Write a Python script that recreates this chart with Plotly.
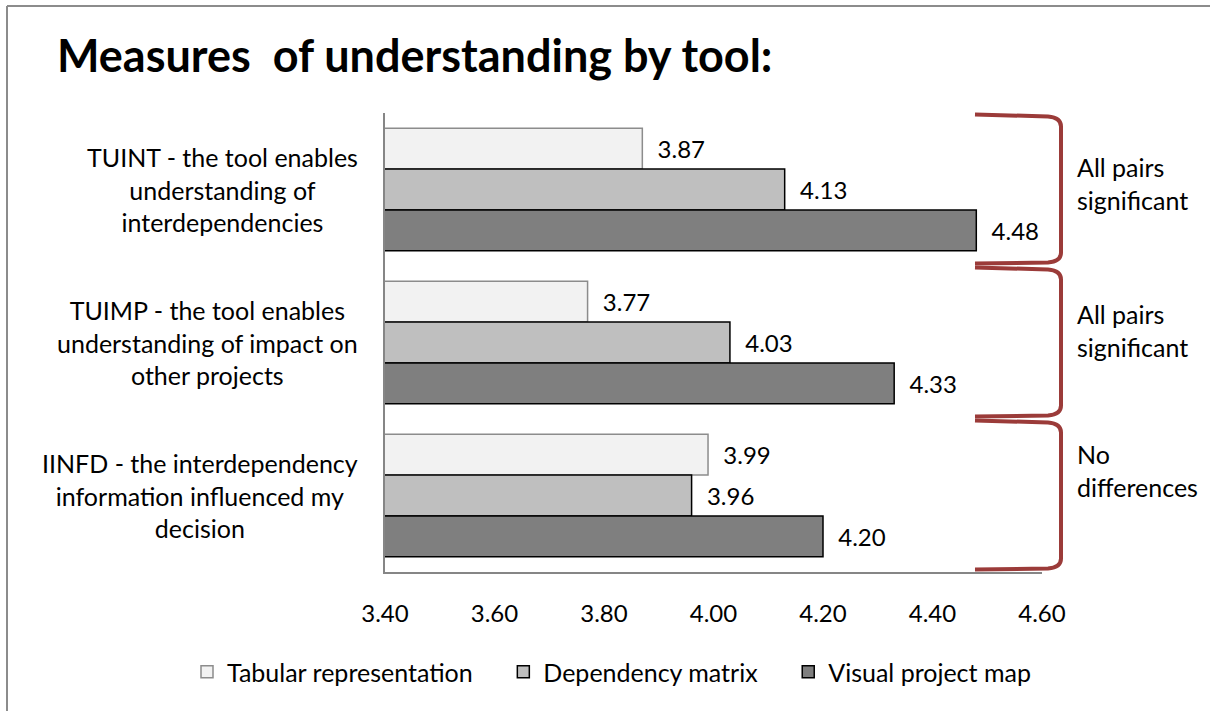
import plotly.graph_objects as go

categories = [
    "TUINT - the tool enables<br>understanding of<br>interdependencies",
    "TUIMP - the tool enables<br>understanding of impact on<br>other projects",
    "IINFD - the interdependency<br>information influenced my<br>decision",
]
cat_ids = ["TUINT", "TUIMP", "IINFD"]
series_names = ["Tabular representation", "Dependency matrix", "Visual project map"]
tabular = [3.87, 3.77, 3.99]
dependency = [4.13, 4.03, 3.96]
visual = [4.48, 4.33, 4.20]
brace_notes = ["All pairs<br>significant", "All pairs<br>significant", "No<br>differences"]
x_ticks = [3.4, 3.6, 3.8, 4.0, 4.2, 4.4, 4.6]

W, H = 1210, 711
L, R, T, B = 385, 1042, 113, 572  # plot area pixels
FONT = "Lato"
note_yshift = [6, 12, 25]
NB = "\u00a0"

def px(p):
    return (p - L) / (R - L)

def py(p):
    return (B - p) / (B - T)

fills = ["#F2F2F2", "#BFBFBF", "#7F7F7F"]
lines = ["#8C8C8C", "#000000", "#000000"]
values = [tabular, dependency, visual]
legend_pad = [NB * 4, NB * 4, ""]

fig = go.Figure()
for name, vals, fc, lc, pad in zip(series_names, values, fills, lines, legend_pad):
    fig.add_trace(go.Bar(
        y=cat_ids, x=vals, name=name + pad, orientation="h",
        marker=dict(color=fc, line=dict(color=lc, width=1.5)),
        text=[NB * 2 + f"{v:.2f}" for v in vals],
        textposition="outside", constraintext="none", cliponaxis=False,
        textfont=dict(family=FONT, size=24, color="black"),
    ))

shapes = []
# braces
bc = "#9B3B39"
band = (B - T) / len(cat_ids)
for i in range(len(cat_ids)):
    c = T + band * (i + 0.5)
    top, bot = c - 75, c + 73
    x0, x1, xv = 975, 1048, 1061
    path = (f"M {px(x0)},{py(top)} L {px(x1)},{py(top+2)} "
            f"Q {px(xv)},{py(top+3)} {px(xv)},{py(top+12)} "
            f"L {px(xv)},{py(bot-10)} "
            f"Q {px(xv)},{py(bot-1)} {px(x1)},{py(bot)} "
            f"L {px(x0)},{py(bot+1)}")
    shapes.append(dict(type="path", path=path, xref="paper", yref="paper",
                       line=dict(color=bc, width=4)))

# outer frame lines (top and left)
shapes.append(dict(type="line", xref="paper", yref="paper",
                   x0=px(7), x1=px(W), y0=py(6), y1=py(6),
                   line=dict(color="#8C8C8C", width=2)))
shapes.append(dict(type="line", xref="paper", yref="paper",
                   x0=px(7), x1=px(7), y0=py(6), y1=py(H),
                   line=dict(color="#8C8C8C", width=2)))

annotations = []
for cid, lab in zip(cat_ids, categories):
    annotations.append(dict(x=px(360), xref="paper", y=cid, yref="y",
                            text=lab, showarrow=False, xanchor="right",
                            align="center", yanchor="middle",
                            font=dict(family=FONT, size=25, color="black")))
for cid, note, ys in zip(cat_ids, brace_notes, note_yshift):
    annotations.append(dict(x=px(1075), xref="paper", y=cid, yref="y",
                            text=note, showarrow=False, xanchor="left",
                            align="left", yanchor="middle", yshift=ys,
                            font=dict(family=FONT, size=25, color="black")))

fig.update_layout(
    width=W, height=H,
    margin=dict(l=L, r=W - R, t=T, b=H - B),
    paper_bgcolor="white", plot_bgcolor="white",
    barmode="group", bargap=0.2, bargroupgap=0,
    title=dict(text="Measures" + NB + " of understanding by tool:",
               x=57 / W, xanchor="left", xref="container",
               y=1 - 56 / H, yanchor="middle", yref="container",
               font=dict(family=FONT, size=45, color="black", weight="bold")),
    xaxis=dict(range=[3.4, 4.6], tickvals=x_ticks, tickformat=".2f",
               showgrid=False, zeroline=False, showline=True,
               linecolor="#868686", linewidth=1.5, ticks="",
               ticklabelstandoff=19,
               tickfont=dict(family=FONT, size=24, color="black")),
    yaxis=dict(autorange="reversed", showticklabels=False, showgrid=False,
               zeroline=False, showline=True, linecolor="#868686",
               linewidth=1.5, ticks=""),
    legend=dict(orientation="h", x=px(187), xanchor="left",
                y=py(672), yanchor="middle",
                font=dict(family=FONT, size=25, color="black")),
    shapes=shapes, annotations=annotations,
    showlegend=True,
)

fig.write_html("out.html", config={"displayModeBar": False},
               post_script="document.body.style.margin='0';document.body.style.overflow='hidden';")
